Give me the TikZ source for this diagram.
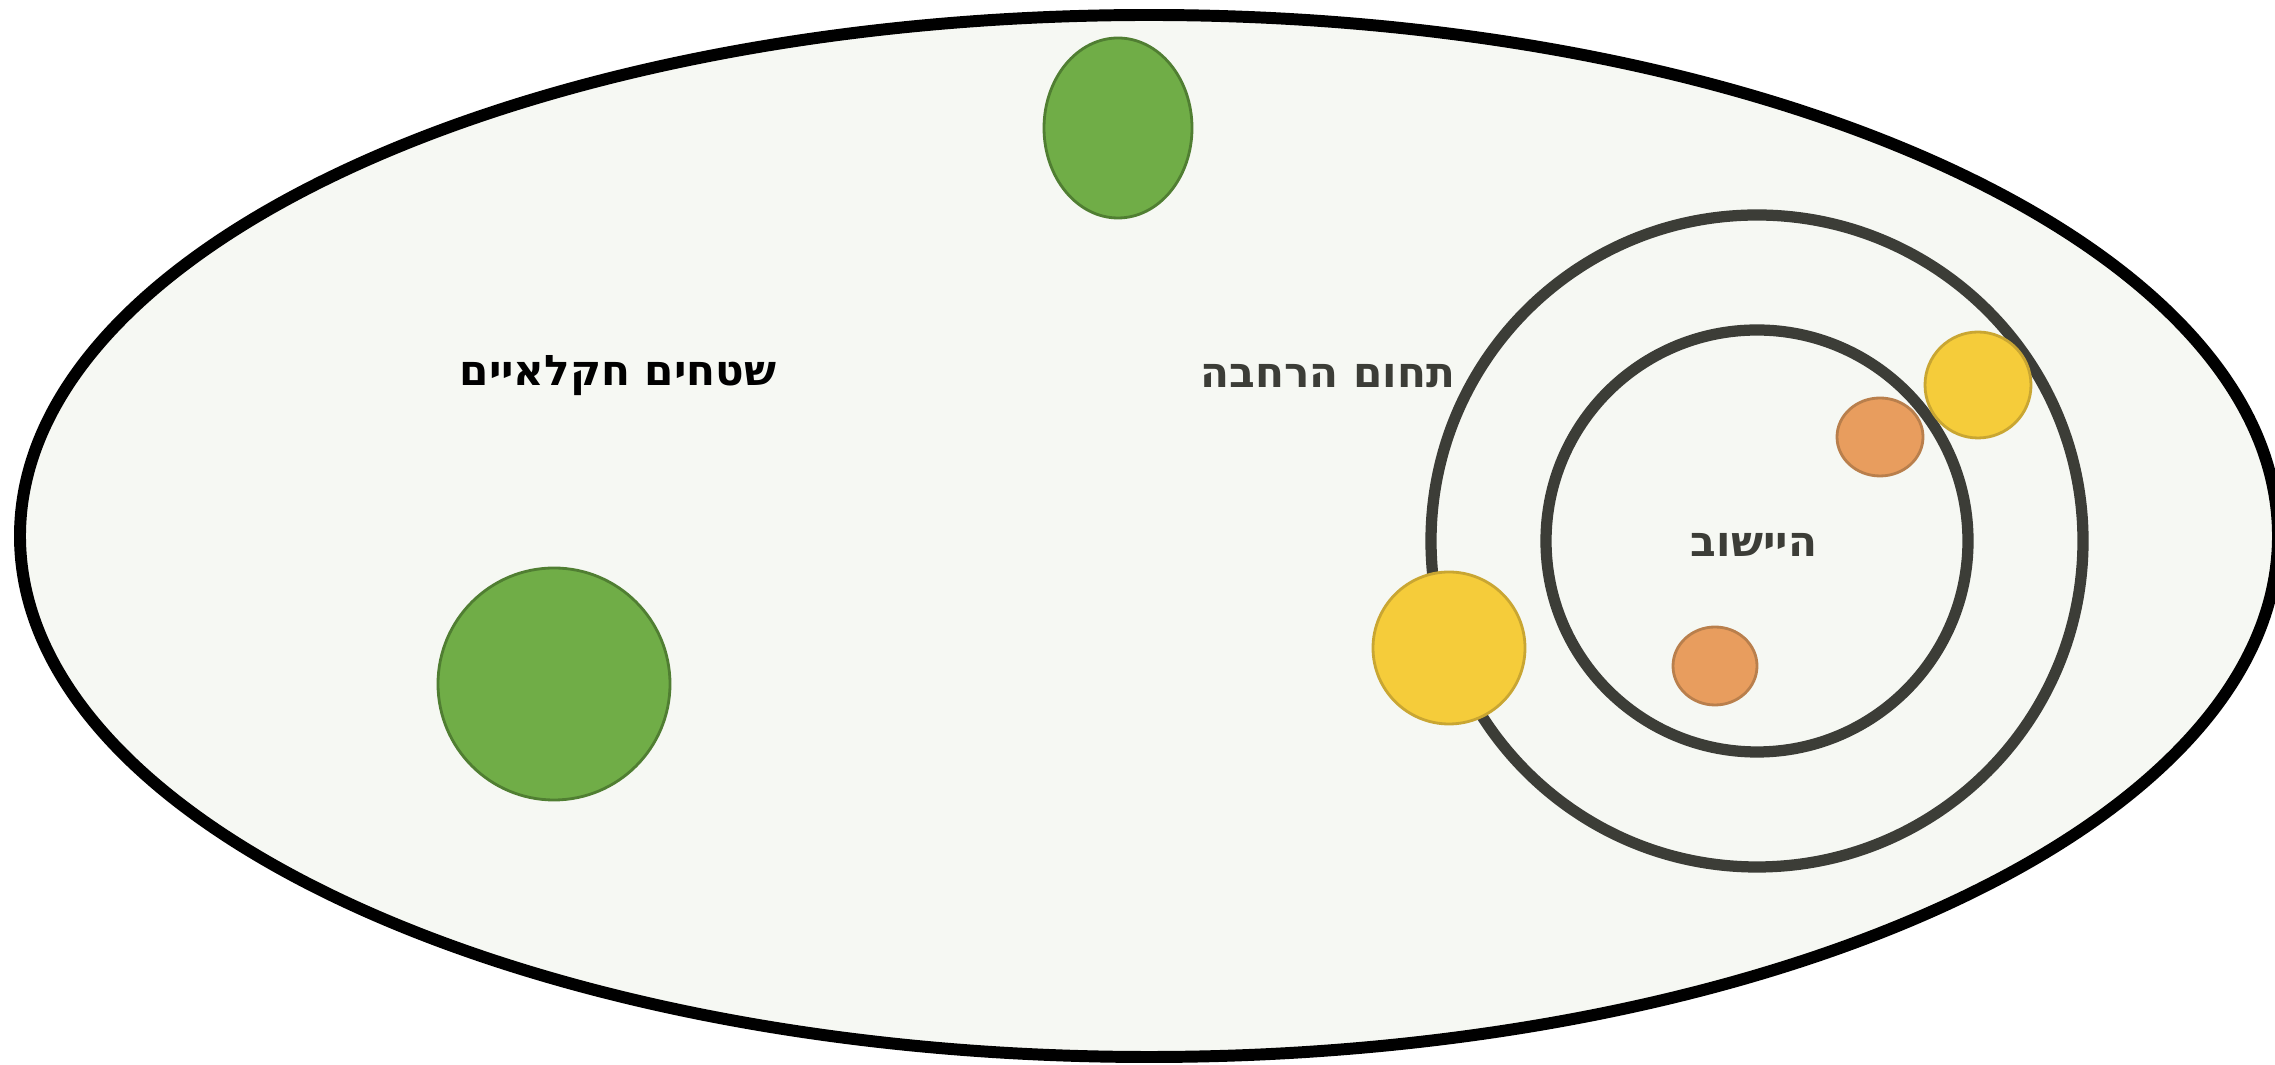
\documentclass[tikz,border=0pt]{standalone}
\usepackage{fontspec}
\usepackage{tikz}
\usetikzlibrary{positioning}
\TeXXeTstate=1
\newfontfamily\hebfont[Script=Hebrew]{DejaVu Sans}
\definecolor{areafill}{RGB}{246,248,243}
\definecolor{ringgray}{RGB}{60,61,55}
\definecolor{grnfill}{RGB}{112,173,71}
\definecolor{grnline}{RGB}{80,126,50}
\definecolor{yelfill}{RGB}{245,204,58}
\definecolor{yelline}{RGB}{201,166,50}
\definecolor{orgfill}{RGB}{232,157,94}
\definecolor{orgline}{RGB}{185,127,76}
\tikzset{
  region/.style ={draw=black, fill=areafill, line width=3.4pt},
  ring/.style ={draw=ringgray, line width=3.2pt},
  grnblob/.style ={draw=grnline, fill=grnfill, line width=0.8pt},
  yelblob/.style ={draw=yelline, fill=yelfill, line width=0.8pt},
  orgblob/.style ={draw=orgline, fill=orgfill, line width=0.8pt},
  heblabel/.style ={font=\hebfont\bfseries\fontsize{12}{14}\selectfont, inner sep=0pt},
}
\begin{document}
\begin{tikzpicture}[x=0.01cm, y=-0.01cm]
\useasboundingbox (0,0) rectangle (2275,1065);
\draw[region] (1149,536) ellipse [x radius=1129, y radius=521];
\foreach \r in {326,211} \draw[ring] (1757,541) circle [radius=\r];
\draw[grnblob] (1118,128) ellipse [x radius=74, y radius=90];
\draw[grnblob] (554,684) circle [radius=116];
\draw[yelblob] (1449,648) circle [radius=76];
\draw[yelblob] (1978,385) circle [radius=53];
\draw[orgblob] (1880,437) ellipse [x radius=43, y radius=39];
\draw[orgblob] (1715,666) ellipse [x radius=42, y radius=39];
\node[heblabel, text=black] (fields) at (618,376) {\beginR שטחים חקלאיים\endR};
\node[heblabel, text=ringgray] (expand) at (1328,376) {\beginR תחום הרחבה\endR};
\node[heblabel, text=ringgray] (village) at (1754,545) {\beginR היישוב\endR};
\end{tikzpicture}
\end{document}
